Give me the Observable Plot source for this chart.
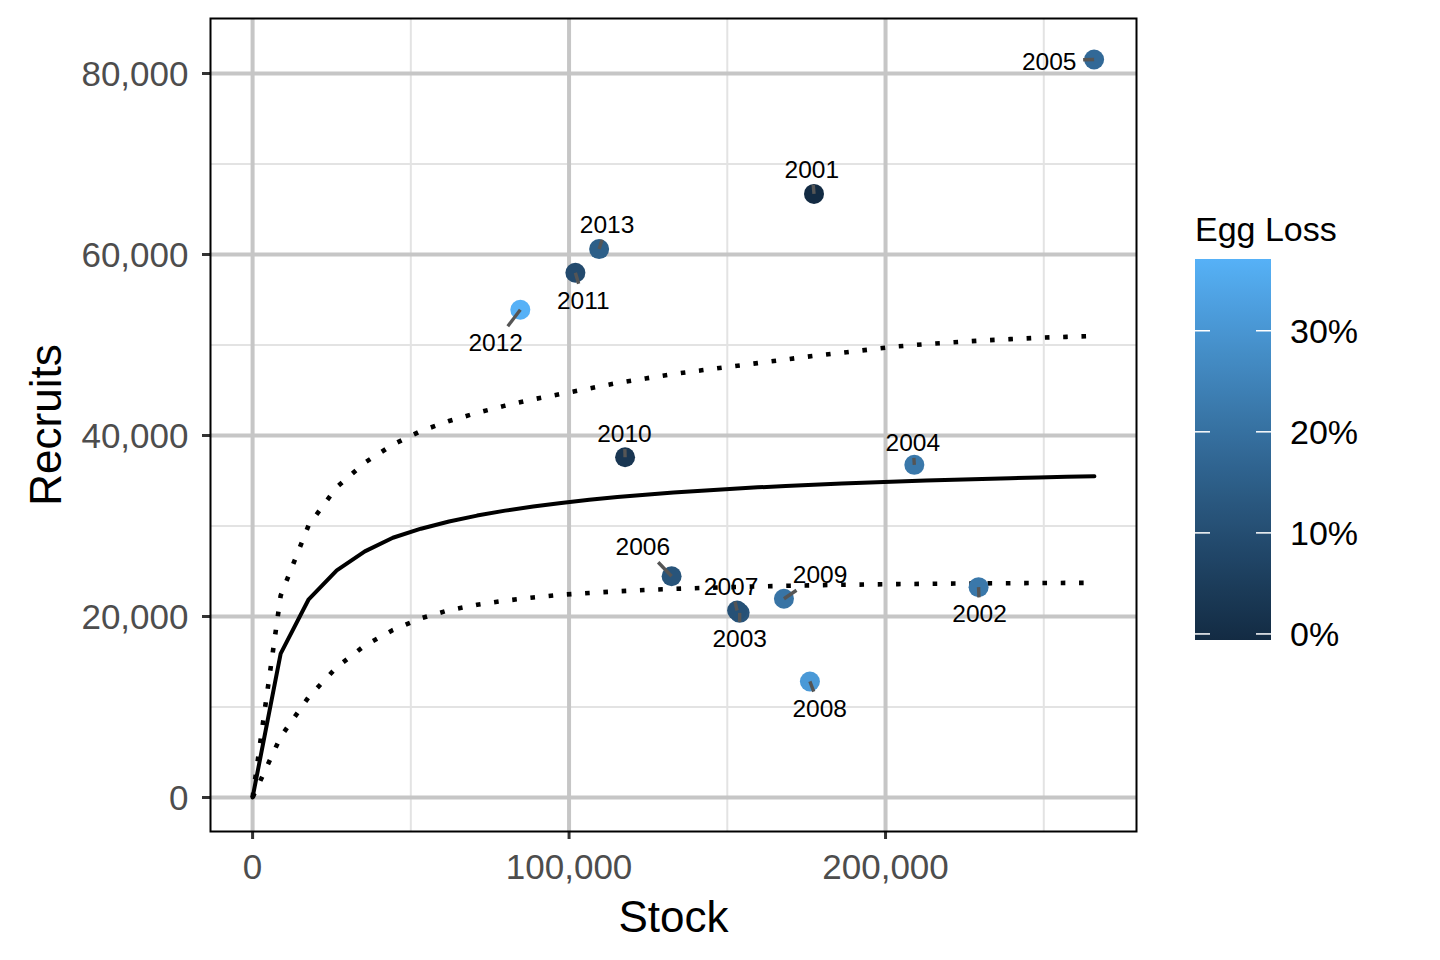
<!DOCTYPE html>
<html>
<head>
<meta charset="utf-8">
<script src="https://cdn.jsdelivr.net/npm/d3@7"></script>
<script src="https://cdn.jsdelivr.net/npm/@observablehq/plot@0.6"></script>
<style>
  html, body { margin: 0; padding: 0; background: white; }
  #wrap { position: relative; width: 1440px; height: 960px; font-family: "Liberation Sans", Arial, Helvetica, sans-serif; }
  #legend { position: absolute; left: 0; top: 0; pointer-events: none; }
</style>
</head>
<body>
<div id="wrap"></div>
<script>
// ---------- data ----------
const years    = [2001, 2002, 2003, 2004, 2005, 2006, 2007, 2008, 2009, 2010, 2011, 2012, 2013];
const stock    = [177400, 229400, 153900, 209100, 265900, 132400, 153100, 176100, 167900, 117700, 102000, 84600, 109500];
const recruits = [66700, 23240, 20400, 36760, 81550, 24450, 20660, 12820, 21960, 37600, 57980, 53900, 60600];
const eggLoss  = [-0.006, 0.22, 0.12, 0.22, 0.18, 0.12, 0.11, 0.31, 0.21, 0.03, 0.09, 0.371, 0.15];
// label positions (repelled), in data units
const labelStock    = [176700, 229700, 153900, 208600, 251700, 123300, 151200, 179200, 179300, 117500, 104500, 76800, 112000];
const labelRecruits = [69470, 20350, 17620, 39300, 81400, 27760, 23400, 9920, 24670, 40280, 55000, 50300, 63400];

// stock-recruitment curve (fit and bounds)
const curveStock = [0, 8870, 17730, 26600, 35470, 44330, 53200, 62070, 70930, 79800, 88670, 97530, 106400, 115270, 124130, 133000, 141870, 150730, 159600, 168470, 177330, 186200, 195070, 203930, 212800, 221670, 230530, 239400, 248270, 257130, 266000];
const curveFit   = [0, 15900, 21900, 25100, 27200, 28700, 29700, 30500, 31150, 31700, 32150, 32550, 32900, 33200, 33450, 33700, 33900, 34100, 34270, 34420, 34560, 34690, 34810, 34920, 35020, 35110, 35200, 35280, 35360, 35430, 35500];
const curveUpper = [0, 22300, 30100, 34300, 37000, 39000, 40500, 41600, 42500, 43300, 44000, 44600, 45200, 45800, 46300, 46800, 47200, 47600, 48000, 48400, 48800, 49150, 49500, 49850, 50100, 50300, 50500, 50650, 50800, 50900, 51000];
const curveLower = [0, 6700, 11100, 14400, 16800, 18500, 19800, 20700, 21300, 21750, 22100, 22400, 22600, 22780, 22930, 23050, 23150, 23240, 23320, 23390, 23450, 23500, 23540, 23580, 23610, 23640, 23660, 23680, 23700, 23710, 23720];

const xMajor = [0, 100000, 200000];
const xMinor = [50000, 150000, 250000];
const yMajor = [0, 20000, 40000, 60000, 80000];
const yMinor = [10000, 30000, 50000, 70000];
const legendTicks = [0, 0.1, 0.2, 0.3];

// ---------- layout ----------
const W = 1440, H = 960;
const mL = 210, mR = 304, mT = 18, mB = 129;
const xDom = [-13300, 279300];
const yDom = [-3760, 86080];
const pxX = (W - mL - mR) / (xDom[1] - xDom[0]);
const pxY = (H - mT - mB) / (yDom[1] - yDom[0]);
const toPx = (s, r) => [mL + (s - xDom[0]) * pxX, H - mB - (r - yDom[0]) * pxY];
const toData = (px, py) => [xDom[0] + (px - mL) / pxX, yDom[0] + (H - mB - py) / pxY];

const points = years.map((yr, i) => ({
  year: yr, S: stock[i], R: recruits[i], loss: eggLoss[i], lx: labelStock[i], ly: labelRecruits[i]
}));
const curve = curveStock.map((s, i) => ({S: s, fit: curveFit[i], upper: curveUpper[i], lower: curveLower[i]}));

// segments from point to label box edge
const halfW = 34, halfH = 16;
const segments = points.map(p => {
  const [px, py] = toPx(p.S, p.R);
  const [lx, ly] = toPx(p.lx, p.ly);
  const dx = px - lx, dy = py - ly;
  const s = Math.min(dx === 0 ? Infinity : halfW / Math.abs(dx), dy === 0 ? Infinity : halfH / Math.abs(dy));
  if (s >= 1) return null;
  const [ex, ey] = toData(lx + s * dx, ly + s * dy);
  return {x1: p.S, y1: p.R, x2: ex, y2: ey};
}).filter(d => d);

const lossDomain = [d3.min(eggLoss), d3.max(eggLoss)];
const colorScale = d3.scaleLinear().domain(lossDomain).range(["#132B43", "#56B1F7"]).interpolate(d3.interpolateLab);

const tickLenX = 8 / pxY;
const tickLenY = 8 / pxX;
const dash = "4.6,13.7";

const chart = Plot.plot({
  width: W, height: H,
  marginLeft: mL, marginRight: mR, marginTop: mT, marginBottom: mB,
  style: {fontFamily: "'Liberation Sans', Arial, Helvetica, sans-serif", background: "white", overflow: "visible"},
  x: {domain: xDom, axis: null},
  y: {domain: yDom, axis: null},
  color: {type: "linear", domain: lossDomain, range: ["#132B43", "#56B1F7"], interpolate: d3.interpolateLab},
  marks: [
    Plot.ruleX(xMinor, {stroke: "#E3E3E3", strokeWidth: 2}),
    Plot.ruleY(yMinor, {stroke: "#E3E3E3", strokeWidth: 2}),
    Plot.ruleX(xMajor, {stroke: "#C6C6C6", strokeWidth: 4}),
    Plot.ruleY(yMajor, {stroke: "#C6C6C6", strokeWidth: 4}),
    Plot.line(curve, {x: "S", y: "upper", stroke: "black", strokeWidth: 4.6, strokeDasharray: dash, strokeLinecap: "butt"}),
    Plot.line(curve, {x: "S", y: "lower", stroke: "black", strokeWidth: 4.6, strokeDasharray: dash, strokeLinecap: "butt"}),
    Plot.line(curve, {x: "S", y: "fit", stroke: "black", strokeWidth: 4}),
    Plot.dot(points, {x: "S", y: "R", fill: "loss", r: 10}),
    Plot.link(segments, {x1: "x1", y1: "y1", x2: "x2", y2: "y2", stroke: "#555555", strokeWidth: 3.4}),
    Plot.text(points, {x: "lx", y: "ly", text: d => String(d.year), fontSize: 24.5, fill: "black", dy: 1}),
    // axis ticks
    Plot.ruleX(xMajor, {y1: yDom[0], y2: yDom[0] - tickLenX, stroke: "#333333", strokeWidth: 3}),
    Plot.ruleY(yMajor, {x1: xDom[0], x2: xDom[0] - tickLenY, stroke: "#333333", strokeWidth: 3}),
    // tick labels
    Plot.text(xMajor, {x: d => d, y: yDom[0], dy: 36, text: d => d3.format(",")(d), fontSize: 35, fill: "#4D4D4D"}),
    Plot.text(yMajor, {x: xDom[0], y: d => d, dx: -22, dy: 1, textAnchor: "end", text: d => d3.format(",")(d), fontSize: 35, fill: "#4D4D4D"}),
    // axis titles
    Plot.text(["Stock"], {x: (xDom[0] + xDom[1]) / 2, y: yDom[0], dy: 86, text: d => d, fontSize: 44, fill: "black"}),
    Plot.text(["Recruits"], {x: xDom[0], y: (yDom[0] + yDom[1]) / 2, dx: -164, rotate: -90, text: d => d, fontSize: 44, fill: "black"}),
    Plot.frame({stroke: "black", strokeWidth: 2})
  ]
});

const wrap = document.getElementById("wrap");
wrap.appendChild(chart);

// ---------- legend (vertical colorbar) ----------
const barX = 1195, barY = 259, barW = 76, barH = 381;
const lsvg = d3.select(wrap).append("svg")
  .attr("id", "legend").attr("width", W).attr("height", H)
  .style("font-family", "'Liberation Sans', Arial, Helvetica, sans-serif");
const grad = lsvg.append("defs").append("linearGradient")
  .attr("id", "eggGrad").attr("x1", 0).attr("y1", 1).attr("x2", 0).attr("y2", 0);
d3.range(0, 1.0001, 0.05).forEach(t => {
  grad.append("stop").attr("offset", t)
    .attr("stop-color", colorScale(lossDomain[0] + t * (lossDomain[1] - lossDomain[0])));
});
lsvg.append("text").attr("x", barX).attr("y", 241).attr("font-size", 34).attr("fill", "black").text("Egg Loss");
lsvg.append("rect").attr("x", barX).attr("y", barY).attr("width", barW).attr("height", barH).attr("fill", "url(#eggGrad)");
const ly = d3.scaleLinear().domain(lossDomain).range([barY + barH, barY]);
legendTicks.forEach(v => {
  const y = ly(v);
  lsvg.append("line").attr("x1", barX).attr("x2", barX + 15).attr("y1", y).attr("y2", y).attr("stroke", "white").attr("stroke-width", 1.5);
  lsvg.append("line").attr("x1", barX + barW - 15).attr("x2", barX + barW).attr("y1", y).attr("y2", y).attr("stroke", "white").attr("stroke-width", 1.5);
  lsvg.append("text").attr("x", 1290).attr("y", y + 12).attr("font-size", 34).attr("fill", "black").text(d3.format(".0%")(v));
});
</script>
</body>
</html>
